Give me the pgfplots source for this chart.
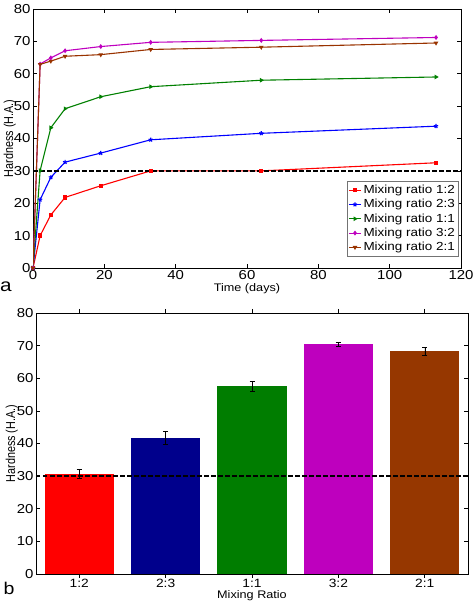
\documentclass[border=0pt]{standalone}
\usepackage{graphicx}
\usepackage{pgfplots}
\pgfplotsset{compat=1.18}
\usepackage{fontspec}
\setmainfont{Liberation Sans}[FakeStretch=1.15]
\newfontfamily\plainf{Liberation Sans}
\usetikzlibrary{plotmarks}
\definecolor{cred}{RGB}{255,0,0}
\definecolor{cblue}{RGB}{0,0,255}
\definecolor{cgreen}{RGB}{0,128,0}
\definecolor{cmag}{RGB}{191,0,191}
\definecolor{cbrown}{RGB}{153,51,0}
\definecolor{bnavy}{RGB}{0,0,140}
\definecolor{bgreen}{RGB}{0,125,0}
\definecolor{bmag}{RGB}{190,0,190}
\definecolor{bbrown}{RGB}{150,55,0}
\pgfplotsset{
  mstyle/.style={
    scale only axis,
    axis line style={line width=0.9pt},
    tick align=inside,
    major tick length=4pt,
    tick style={line width=0.7pt, black},
    /pgf/number format/assume math mode=true,
    tick label style={font=\fontsize{13}{14}\selectfont},
    xticklabel style={yshift=1pt},
    yticklabel style={xshift=1pt},
  }
}
\begin{document}
\begin{tikzpicture}[x=1pt,y=1pt]
\path[use as bounding box] (0,0) rectangle (473,604);
% ---------- (a) ----------
\begin{axis}[mstyle,
  at={(33pt,336pt)}, anchor=south west,
  width=428pt, height=259pt,
  xmin=0, xmax=120, ymin=0, ymax=80,
  xtick={0,20,...,120}, ytick={0,10,...,80},
  xlabel={Time (days)}, ylabel={\scalebox{1}[1.2]{Hardness (H.A.)}},
  every axis x label/.style={at={(axis description cs:0.5,-0.081)}, anchor=center, font=\fontsize{11}{12}\selectfont},
  every axis y label/.style={at={(axis description cs:-0.054,0.5)}, rotate=90, anchor=center, font=\plainf\fontsize{10.8}{12}\selectfont},
  legend style={at={(0.993,0.046)}, anchor=south east, draw=black!55, line width=0.5pt,
    font=\fontsize{11.7}{13}\selectfont, inner xsep=1pt, inner ysep=1.5pt, row sep=0.3pt, cells={anchor=west}},
  legend image code/.code={\draw[#1] (0pt,0pt) -- (12pt,0pt); \path[#1] plot coordinates {(6pt,0pt)};},
  every axis plot/.append style={line width=1.1pt, mark size=1.6pt, mark options={solid}},
]
\addplot[cred, mark=square*] coordinates {(0,0) (2,10.0) (5,16.4) (9,21.8) (19,25.4) (33,30.0) (64,30.0) (113,32.5)};
\addlegendentry{Mixing ratio 1:2}
\addplot[cblue, mark=star, mark size=2.2pt] coordinates {(0,0) (2,21.1) (5,28.0) (9,32.7) (19,35.5) (33,39.6) (64,41.6) (113,43.8)};
\addlegendentry{Mixing ratio 2:3}
\addplot[cgreen, mark=triangle*, mark options={rotate=-90}] coordinates {(0,0) (2,30.1) (5,43.3) (9,49.2) (19,52.9) (33,56.0) (64,58.0) (113,59.0)};
\addlegendentry{Mixing ratio 1:1}
\addplot[cmag, mark=diamond*] coordinates {(0,0) (2,63.0) (5,64.9) (9,67.1) (19,68.4) (33,69.7) (64,70.3) (113,71.2)};
\addlegendentry{Mixing ratio 3:2}
\addplot[cbrown, mark=triangle*, mark options={rotate=180}] coordinates {(0,0) (2,62.9) (5,63.9) (9,65.4) (19,65.9) (33,67.5) (64,68.2) (113,69.5)};
\addlegendentry{Mixing ratio 2:1}
\addplot[black, dash pattern=on 4.5pt off 2.5pt, line width=1.4pt, mark=none, forget plot] coordinates {(0,30) (120,30)};
\end{axis}
\node[font=\fontsize{18}{19}\selectfont] at (6,317) {a};
% ---------- (b) ----------
\begin{axis}[mstyle,
  at={(36pt,30pt)}, anchor=south west,
  width=432pt, height=261pt,
  xmin=0.5, xmax=5.5, ymin=0, ymax=80,
  xtick={1,2,3,4,5}, xticklabels={1:2,2:3,1:1,3:2,2:1},
  xticklabel style={font=\fontsize{12}{13}\selectfont, yshift=1pt},
  ytick={0,10,...,80},
  xlabel={Mixing Ratio}, ylabel={\scalebox{1}[1.2]{Hardness (H.A.)}},
  every axis x label/.style={at={(axis description cs:0.5,-0.083)}, anchor=center, font=\fontsize{11}{12}\selectfont},
  every axis y label/.style={at={(axis description cs:-0.056,0.5)}, rotate=90, anchor=center, font=\plainf\fontsize{10.8}{12}\selectfont},
  ybar, bar width=0.8, bar shift=0pt,
]
\addplot[draw=none, fill=cred, error bars/.cd, y dir=both, y explicit, error bar style={black, line width=0.6pt}, error mark options={rotate=90, mark size=2.5pt, black}]
  coordinates {(1,30.8) +- (0,1.3)};
\addplot[draw=none, fill=bnavy, error bars/.cd, y dir=both, y explicit, error bar style={black, line width=0.6pt}, error mark options={rotate=90, mark size=2.5pt, black}]
  coordinates {(2,41.7) +- (0,2.0)};
\addplot[draw=none, fill=bgreen, error bars/.cd, y dir=both, y explicit, error bar style={black, line width=0.6pt}, error mark options={rotate=90, mark size=2.5pt, black}]
  coordinates {(3,57.6) +- (0,1.5)};
\addplot[draw=none, fill=bmag, error bars/.cd, y dir=both, y explicit, error bar style={black, line width=0.6pt}, error mark options={rotate=90, mark size=2.5pt, black}]
  coordinates {(4,70.4) +- (0,0.7)};
\addplot[draw=none, fill=bbrown, error bars/.cd, y dir=both, y explicit, error bar style={black, line width=0.6pt}, error mark options={rotate=90, mark size=2.5pt, black}]
  coordinates {(5,68.3) +- (0,1.1)};
\addplot[black, dash pattern=on 4.5pt off 2.5pt, line width=1.4pt, sharp plot, mark=none] coordinates {(0.5,30) (5.5,30)};
\end{axis}
\node[font=\fontsize{17}{18}\selectfont] at (9,16) {b};
\end{tikzpicture}
\end{document}
